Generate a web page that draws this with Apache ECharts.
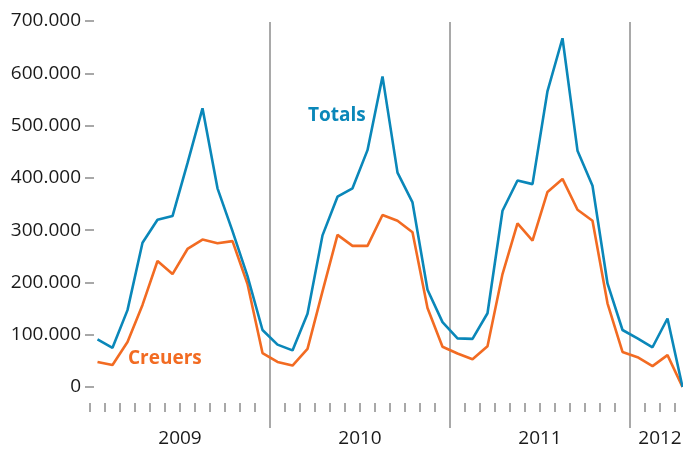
<!DOCTYPE html>
<html>
<head>
<meta charset="utf-8">
<script src="https://cdn.jsdelivr.net/npm/echarts@6/dist/echarts.min.js"></script>
<style>
html,body{margin:0;padding:0;background:#fff;overflow:hidden;width:683px;height:450px;}
#c{width:690px;height:450px;}
</style>
</head>
<body>
<div id="c"></div>
<script>
var months = [
  '2009-01','2009-02','2009-03','2009-04','2009-05','2009-06','2009-07','2009-08','2009-09','2009-10','2009-11','2009-12',
  '2010-01','2010-02','2010-03','2010-04','2010-05','2010-06','2010-07','2010-08','2010-09','2010-10','2010-11','2010-12',
  '2011-01','2011-02','2011-03','2011-04','2011-05','2011-06','2011-07','2011-08','2011-09','2011-10','2011-11','2011-12',
  '2012-01','2012-02','2012-03','2012-04'
];
var totals = [
  91000, 75000, 147000, 276000, 320000, 327000, 428000, 533000, 380000, 298000, 212000, 109000,
  81000, 70000, 140000, 290000, 364000, 380000, 453000, 594000, 410000, 353000, 186000, 124000,
  93000, 92000, 141000, 337000, 395000, 388000, 566000, 667000, 452000, 385000, 198000, 109000,
  93000, 76000, 131000, 0
];
var creuers = [
  48000, 42000, 86000, 157000, 241000, 216000, 264000, 282000, 275000, 279000, 197000, 65000,
  48000, 41000, 73000, 183000, 291000, 270000, 270000, 329000, 318000, 296000, 151000, 77000,
  64000, 53000, 78000, 216000, 313000, 280000, 373000, 398000, 339000, 318000, 160000, 67000,
  57000, 40000, 61000, 0
];
var yearLabels = ['2009', '2010', '2011', '2012'];
var yearLabelAt = ['2009-06', '2010-06', '2011-06', '2012-02'];
var yearStarts = ['2010-01', '2011-01', '2012-01'];

var BLUE = '#0a87b9', ORANGE = '#f26b22', GRAY = '#8c8c8c';
var FONT = 'Open Sans';

var chart = echarts.init(document.getElementById('c'), null, {renderer: 'canvas', width: 690, height: 450});
chart.setOption({
  animation: false,
  backgroundColor: '#fff',
  grid: [
    {left: 90, right: 0, top: 21, bottom: 63},
    {left: 90, right: 0, top: 22, bottom: 22}
  ],
  xAxis: [
    {
      type: 'category', gridIndex: 0, data: months, boundaryGap: true,
      offset: 16,
      axisLine: {show: false, onZero: false},
      axisTick: {
        show: true, length: 9, lineStyle: {color: GRAY, width: 1.5},
        interval: function (i, v) { return yearStarts.indexOf(months[i]) < 0; }
      },
      axisLabel: {
        show: true, margin: 26, color: '#1a1a1a', fontFamily: FONT, fontSize: 19,
        padding: [0, 0, 0, 15],
        interval: function (i, v) { return yearLabelAt.indexOf(v) >= 0; },
        formatter: function (v) {
          var k = yearLabelAt.indexOf(v);
          return k >= 0 ? yearLabels[k] : '';
        }
      },
      splitLine: {show: false}
    },
    {
      type: 'category', gridIndex: 1, data: months, boundaryGap: true,
      axisLine: {show: false, onZero: false}, axisTick: {show: false}, axisLabel: {show: false},
      splitLine: {
        show: true, lineStyle: {color: GRAY, width: 1.5},
        interval: function (i, v) { return yearStarts.indexOf(months[i]) >= 0; }
      }
    }
  ],
  yAxis: [
    {
      type: 'value', gridIndex: 0, min: 0, max: 700000, interval: 100000,
      offset: -4,
      axisLine: {show: false, onZero: false},
      axisTick: {show: true, length: 9, lineStyle: {color: GRAY, width: 1.5}},
      splitLine: {show: false},
      axisLabel: {
        margin: 13, color: '#1a1a1a', fontFamily: FONT, fontSize: 19,
        formatter: function (v) {
          if (v === 0) return '0';
          return (v / 1000).toFixed(0) + '.000';
        }
      }
    },
    {
      type: 'value', gridIndex: 1, min: 0, max: 1, show: false
    }
  ],
  graphic: [
    {type: 'text', left: 308, top: 106, style: {text: 'Totals', fill: BLUE, font: 'bold 19px "Open Sans"'}},
    {type: 'text', left: 128, top: 349, style: {text: 'Creuers', fill: ORANGE, font: 'bold 19px "Open Sans"'}}
  ],
  series: [
    {
      name: 'Creuers', type: 'line', xAxisIndex: 0, yAxisIndex: 0, data: creuers,
      showSymbol: false, symbol: 'none', lineStyle: {color: ORANGE, width: 2.6}, itemStyle: {color: ORANGE}
    },
    {
      name: 'Totals', type: 'line', xAxisIndex: 0, yAxisIndex: 0, data: totals,
      showSymbol: false, symbol: 'none', lineStyle: {color: BLUE, width: 2.6}, itemStyle: {color: BLUE}
    }
  ]
});
</script>
</body>
</html>
